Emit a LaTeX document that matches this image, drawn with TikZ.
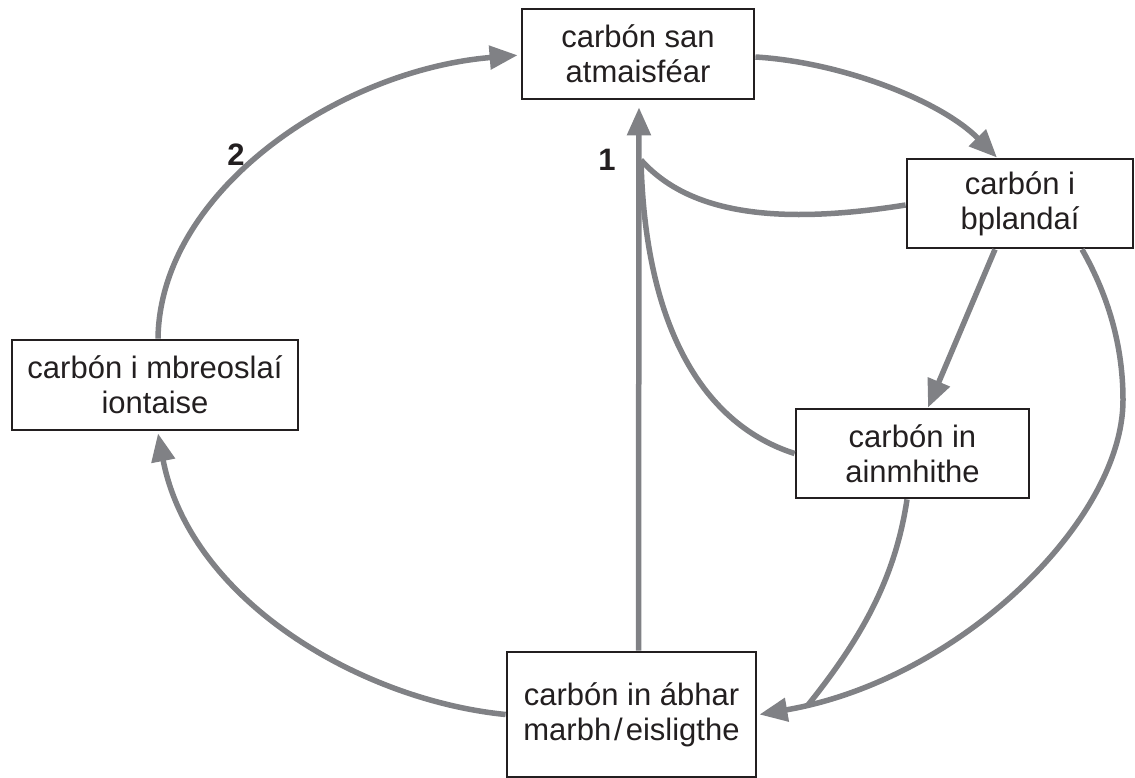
\documentclass[tikz,border=0pt]{standalone}
\usepackage{fontspec}
\setmainfont{Liberation Sans}
\usetikzlibrary{arrows.meta}
\definecolor{flow}{HTML}{808185}
\definecolor{edge}{HTML}{231F20}
\begin{document}
\begin{tikzpicture}[x=1pt,y=-1pt,
  box/.style={draw=edge,line width=2.8pt,align=center,inner sep=0pt,
    text=edge,font=\fontsize{31}{35}\selectfont},
  link/.style={draw=flow,line width=5.5pt},
  arr/.style={link,-{Triangle[length=28pt,width=23pt]}},
  num/.style={font=\fontsize{31}{35}\selectfont\bfseries,text=edge}]
\useasboundingbox (0,0) rectangle (1135,778);
\node[box,minimum width=232pt,minimum height=90pt] (atm) at (638,54) {carbón san\\atmaisféar};
\node[box,minimum width=226pt,minimum height=89pt] (pl) at (1020,203.5) {carbón i\\bplandaí};
\node[box,minimum width=233pt,minimum height=89pt] (an) at (912.5,453.5) {carbón in\\ainmhithe};
\node[box,minimum width=249pt,minimum height=125pt] (dead) at (631.5,714.5) {carbón in ábhar\\marbh\kern3pt/\kern3pt eisligthe};
\node[box,minimum width=286pt,minimum height=90pt] (fos) at (155,385) {carbón i mbreoslaí\\iontaise};
\node[num] (n1) at (607,160) {1};
\node[num] (n2) at (236,155) {2};
\coordinate (j) at (641,160);
\coordinate (m) at (808,705);
% vertical arrow 1
\draw[arr,shorten >=7pt] ([xshift=7pt]dead.north) -- ([xshift=1pt]atm.south);
% atmosphere -> plants
\draw[arr] ([yshift=-3pt]atm.east) .. controls (840,62) and (940,100) .. ([xshift=-23pt]pl.north);
% plants -> junction
\draw[link] ([yshift=-1.5pt]pl.west) .. controls (780,225) and (690,215) .. (j);
% animals -> junction
\draw[link] (an.west) .. controls (705,425) and (645,330) .. (j);
% plants -> animals
\draw[arr] ([xshift=-25pt]pl.south) -- ([xshift=15.5pt]an.north);
% plants -> dead
\draw[arr] ([xshift=62pt]pl.south) .. controls (1105,290) and (1123,340) .. (1123,400)
  .. controls (1123,520) and (960,680) .. ([xshift=2pt]dead.east);
% animals -> dead (merging)
\draw[link] ([xshift=-5.5pt]an.south) .. controls (895,580) and (860,640) .. (m);
% dead -> fossil
\draw[arr] (dead.west) .. controls (360,700) and (190,600) .. ([xshift=3pt,yshift=-2pt]fos.south);
% fossil -> atmosphere
\draw[arr,shorten >=3pt] ([xshift=3pt]fos.north) .. controls (160,190) and (340,70) .. ([yshift=-1pt]atm.west);
\end{tikzpicture}
\end{document}
